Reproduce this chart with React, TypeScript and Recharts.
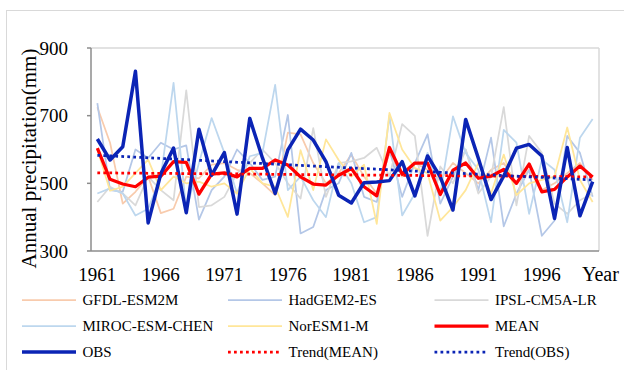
import React from 'react';
import { LineChart, Line, XAxis, YAxis, ReferenceLine } from 'recharts';

// years on the category axis
const years = [
  1961, 1962, 1963, 1964, 1965, 1966, 1967, 1968, 1969, 1970,
  1971, 1972, 1973, 1974, 1975, 1976, 1977, 1978, 1979, 1980,
  1981, 1982, 1983, 1984, 1985, 1986, 1987, 1988, 1989, 1990,
  1991, 1992, 1993, 1994, 1995, 1996, 1997, 1998, 1999, 2000,
];

// annual precipitation (mm)
const gfdl = [
  725, 620, 440, 475, 520, 412, 425, 520, 515, 555,
  560, 540, 530, 500, 465, 650, 645, 560, 500, 530,
  585, 520, 470, 590, 520, 560, 540, 510, 560, 530,
  500, 540, 560, 500, 540, 480, 500, 530, 560, 510,
];
const hadgem = [
  737, 480, 475, 600, 575, 620, 600, 612, 393, 480,
  520, 600, 560, 510, 520, 702, 352, 371, 480, 500,
  590, 460, 445, 600, 460, 560, 645, 440, 520, 600,
  480, 635, 373, 470, 540, 345, 390, 640, 590, 460,
];
const ipsl = [
  445, 490, 470, 435, 520, 480, 450, 775, 430, 435,
  460, 530, 560, 600, 560, 500, 455, 663, 460, 560,
  565, 575, 605, 520, 675, 640, 345, 550, 500, 600,
  470, 520, 725, 435, 640, 590, 440, 410, 450, 470,
];
const miroc = [
  470, 485, 470, 405, 425, 520, 797, 420, 560, 693,
  590, 470, 580, 590, 791, 480, 520, 450, 400, 560,
  500, 385, 400, 700, 405, 470, 590, 470, 698, 590,
  540, 385, 658, 620, 410, 570, 540, 385, 635, 690,
];
const noresm = [
  600, 478, 490, 530, 570, 480, 520, 500, 505, 490,
  500, 470, 545, 500, 490, 401, 598, 480, 630, 569,
  520, 555, 380, 708, 600, 545, 530, 390, 430, 480,
  560, 470, 585, 465, 500, 510, 520, 665, 510, 445,
];
const mean = [
  604, 512, 498, 490, 518, 521, 564, 562, 468, 527,
  531, 519, 544, 544, 569, 554, 519, 498, 495, 524,
  544, 490, 463, 606, 527, 560, 560, 467, 539, 560,
  515, 521, 541, 500, 557, 475, 482, 519, 551, 519,
];
const obs = [
  631, 569, 608, 831, 383, 529, 604, 413, 660, 524,
  591, 409, 692, 575, 470, 599, 660, 628, 564, 465,
  442, 502, 504, 508, 564, 463, 581, 519, 421, 689,
  574, 452, 522, 604, 615, 581, 396, 606, 404, 505,
];
// linear trends, start (1961) and end (2000)
const trendMeanEnds = [531, 519];
const trendObsEnds = [583, 510];

const xLabelTicks = [1961, 1966, 1971, 1976, 1981, 1986, 1991, 1996];
const xMarkTicks = [1965.5, 1970.5, 1975.5, 1980.5, 1985.5, 1990.5, 1995.5, 2000.5];
const yTicks = [300, 500, 700, 900];

const FONT = '"Liberation Serif", "Times New Roman", serif';
const AXIS = '#8C8C8C';
const FRAME = '#D9D9D9';

const last = years.length - 1;
const data = years.map((year, i) => ({
  year,
  gfdl: gfdl[i],
  hadgem: hadgem[i],
  ipsl: ipsl[i],
  miroc: miroc[i],
  noresm: noresm[i],
  mean: mean[i],
  obs: obs[i],
  trendMean: i === 0 ? trendMeanEnds[0] : i === last ? trendMeanEnds[1] : null,
  trendObs: i === 0 ? trendObsEnds[0] : i === last ? trendObsEnds[1] : null,
}));

const series = [
  { key: 'gfdl', name: 'GFDL-ESM2M', color: '#F8CBAD', width: 1.75 },
  { key: 'hadgem', name: 'HadGEM2-ES', color: '#B4C7E7', width: 1.75 },
  { key: 'ipsl', name: 'IPSL-CM5A-LR', color: '#D9D9D9', width: 1.75 },
  { key: 'miroc', name: 'MIROC-ESM-CHEN', color: '#BDD7EE', width: 1.75 },
  { key: 'noresm', name: 'NorESM1-M', color: '#FFE699', width: 1.75 },
  { key: 'mean', name: 'MEAN', color: '#FF0000', width: 3.25 },
  { key: 'obs', name: 'OBS', color: '#0B24B5', width: 3.5 },
  { key: 'trendMean', name: 'Trend(MEAN)', color: '#FF0000', width: 2.75, dash: '2.75 3.25' },
  { key: 'trendObs', name: 'Trend(OBS)', color: '#0B24B5', width: 2.75, dash: '2.75 3.25' },
];

function ChartLegend() {
  const cols = [22, 228, 434.5];
  const rows = [300, 326, 352];
  return (
    <svg
      width={624}
      height={370}
      style={{ position: 'absolute', left: 0, top: 0, pointerEvents: 'none', fontFamily: FONT }}
    >
      {series.map((s, i) => {
        const x = cols[i % 3];
        const y = rows[Math.floor(i / 3)];
        return (
          <g key={s.key}>
            <line
              x1={x}
              x2={x + 54}
              y1={y}
              y2={y}
              stroke={s.color}
              strokeWidth={s.width}
              strokeDasharray={s.dash}
            />
            <text x={x + 60.5} y={y + 5} fontSize={15} style={{ fontFamily: FONT }} fill="#000">
              {s.name}
            </text>
          </g>
        );
      })}
    </svg>
  );
}

export default function App() {
  return (
    <div
      style={{
        position: 'absolute',
        left: 0,
        top: 0,
        width: 624,
        height: 370,
        overflow: 'hidden',
        background: '#fff',
        fontFamily: FONT,
      }}
    >
      <div
        style={{
          position: 'absolute',
          left: 6,
          top: 10,
          width: 700,
          height: 500,
          border: `1px solid ${FRAME}`,
        }}
      />
      <LineChart
        width={624}
        height={370}
        data={data}
        margin={{ top: 48, right: 25, bottom: 89, left: 21 }}
      >
        <XAxis
          xAxisId="marks"
          dataKey="year"
          type="number"
          domain={[1960.5, 2000.5]}
          ticks={xMarkTicks}
          mirror
          tick={false}
          tickSize={5}
          tickLine={{ stroke: AXIS, strokeWidth: 1.5 }}
          axisLine={{ stroke: AXIS, strokeWidth: 1.5 }}
        />
        <XAxis
          xAxisId="lab"
          dataKey="year"
          type="number"
          domain={[1960.5, 2000.5]}
          ticks={xLabelTicks}
          height={30}
          interval={0}
          tickLine={false}
          axisLine={false}
          tickSize={0}
          tickMargin={16.5}
          tick={{ fontSize: 19, fontFamily: FONT, fill: '#000' }}
          label={{
            content: (props: any) => {
              const vb = props.viewBox || {};
              return (
                <text
                  x={vb.x + vb.width - 17}
                  y={281}
                  fontSize={20}
                  style={{ fontFamily: FONT }}
                  fill="#000"
                >
                  Year
                </text>
              );
            },
          }}
        />
        <YAxis
          type="number"
          domain={[300, 900]}
          ticks={yTicks}
          width={70}
          interval={0}
          tickSize={4}
          tickMargin={19}
          tickLine={{ stroke: AXIS, strokeWidth: 1.5 }}
          axisLine={{ stroke: AXIS, strokeWidth: 1.5 }}
          tick={{ fontSize: 19, fontFamily: FONT, fill: '#000' }}
          label={{
            content: (props: any) => {
              const vb = props.viewBox || {};
              const cy = vb.y + vb.height / 2 + 9;
              return (
                <text
                  x={36}
                  y={cy}
                  transform={`rotate(-90, 36, ${cy})`}
                  textAnchor="middle"
                  fontSize={21}
                  style={{ fontFamily: FONT }}
                  fill="#000"
                >
                  Annual precipitation(mm)
                </text>
              );
            },
          }}
        />
        <ReferenceLine xAxisId="lab" y={900} stroke={FRAME} strokeWidth={1.5} />
        <ReferenceLine xAxisId="lab" x={2000.5} stroke={FRAME} strokeWidth={1.5} />
        {series.map((s) => (
          <Line
            key={s.key}
            xAxisId="lab"
            type="linear"
            dataKey={s.key}
            name={s.name}
            stroke={s.color}
            strokeWidth={s.width}
            strokeDasharray={s.dash}
            strokeLinejoin="round"
            dot={false}
            activeDot={false}
            connectNulls
            isAnimationActive={false}
          />
        ))}
      </LineChart>
      <ChartLegend />
    </div>
  );
}
